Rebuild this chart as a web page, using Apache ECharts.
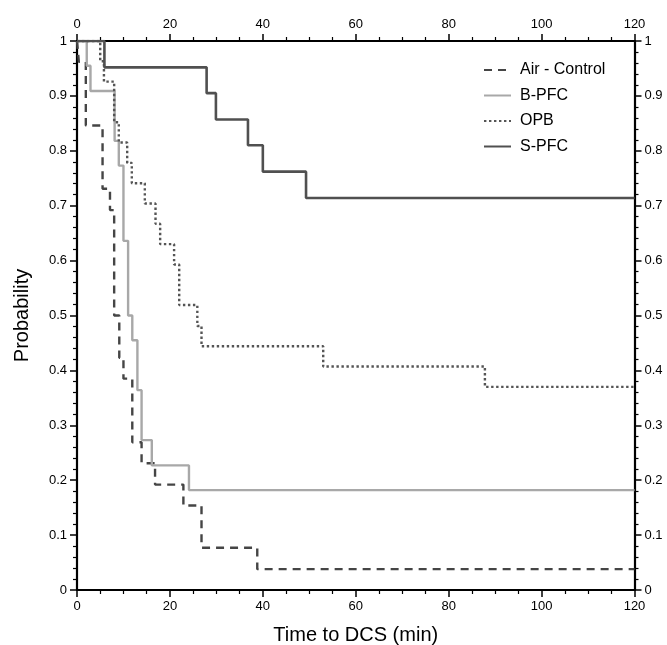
<!DOCTYPE html>
<html>
<head>
<meta charset="utf-8">
<script src="https://cdn.jsdelivr.net/npm/echarts@6/dist/echarts.min.js"></script>
<style>html,body{margin:0;padding:0;background:#fff;}#c{width:667px;height:645px;}</style>
</head>
<body>
<div id="c"></div>
<script>
// Kaplan-Meier step data (event time, survival probability after the event)
const seriesNames = ['Air - Control', 'B-PFC', 'OPB', 'S-PFC'];
const airTimes = [0.4, 1.9, 5.5, 7.1, 8.0, 9.1, 10.0, 11.9, 13.9, 16.8, 22.9, 26.8, 38.8];
const airProb  = [0.962, 0.846, 0.731, 0.692, 0.500, 0.423, 0.385, 0.269, 0.231, 0.192, 0.154, 0.077, 0.038];
const bpfcTimes = [2.1, 2.9, 8.1, 9.0, 10.0, 11.0, 11.9, 13.0, 13.9, 16.1, 24.1];
const bpfcProb  = [0.955, 0.909, 0.818, 0.773, 0.636, 0.500, 0.455, 0.364, 0.273, 0.227, 0.182];
const opbTimes = [5.0, 5.8, 8.0, 9.0, 10.8, 11.8, 14.6, 16.9, 17.9, 20.9, 22.0, 25.9, 26.8, 53.0, 87.8];
const opbProb  = [0.963, 0.926, 0.852, 0.815, 0.778, 0.741, 0.704, 0.667, 0.630, 0.593, 0.519, 0.481, 0.444, 0.407, 0.370];
const spfcTimes = [5.9, 27.9, 29.9, 36.8, 40.0, 49.3];
const spfcProb  = [0.952, 0.905, 0.857, 0.810, 0.762, 0.714];
const xTicks = [0, 20, 40, 60, 80, 100, 120];
const yTicks = [0, 0.1, 0.2, 0.3, 0.4, 0.5, 0.6, 0.7, 0.8, 0.9, 1];
const xMax = 120;

function steps(times, probs) {
  const d = [[0, 1]];
  times.forEach((t, i) => d.push([t, probs[i]]));
  d.push([xMax, probs[probs.length - 1]]);
  return d;
}

const font = 'Liberation Sans, Arial, Helvetica, sans-serif';
const axisLine = { show: true, onZero: false, lineStyle: { color: '#000', width: 2.2 } };
const axisTick = { show: true, length: 7, lineStyle: { color: '#000', width: 1.5 } };
const minorTickX = { show: true, splitNumber: 4, length: 4, lineStyle: { color: '#000', width: 1.2 } };
const minorTickY = { show: true, splitNumber: 5, length: 4, lineStyle: { color: '#000', width: 1.2 } };
const lbl = { color: '#000', fontFamily: font, fontSize: 13 };
const yFmt = v => String(+v.toFixed(1));

const xAxisBase = {
  type: 'value', min: 0, max: xMax, interval: 20,
  axisLine, axisTick, minorTick: minorTickX, splitLine: { show: false },
  axisLabel: Object.assign({ margin: 10 }, lbl)
};
const yAxisBase = {
  type: 'value', min: 0, max: 1, interval: 0.1,
  axisLine, axisTick, minorTick: minorTickY, splitLine: { show: false },
  axisLabel: Object.assign({ margin: 10, formatter: yFmt }, lbl)
};

const chart = echarts.init(document.getElementById('c'), null, { renderer: 'canvas' });
chart.setOption({
  backgroundColor: '#fff',
  animation: false,
  grid: { left: 77, right: 32.5, top: 41, bottom: 55, containLabel: false, outerBoundsMode: 'none' },
  legend: {
    left: 478, top: 57, orient: 'vertical', itemWidth: 27, itemHeight: 14, itemGap: 9.5,
    itemStyle: { opacity: 0 },
    textStyle: { color: '#000', fontFamily: font, fontSize: 16, padding: [0, 0, 0, 4] },
    data: seriesNames
  },
  xAxis: [
    Object.assign({}, xAxisBase, {
      position: 'bottom', name: 'Time to DCS (min)', nameLocation: 'middle', nameGap: 35,
      nameTextStyle: { color: '#000', fontFamily: font, fontSize: 20 }
    }),
    Object.assign({}, xAxisBase, { position: 'top' })
  ],
  yAxis: [
    Object.assign({}, yAxisBase, {
      position: 'left', name: 'Probability', nameLocation: 'middle', nameGap: 45,
      nameTextStyle: { color: '#000', fontFamily: font, fontSize: 20 }
    }),
    Object.assign({}, yAxisBase, { position: 'right' })
  ],
  series: [
    { name: seriesNames[0], type: 'line', step: 'end', symbol: 'none', data: steps(airTimes, airProb),
      lineStyle: { color: '#454545', width: 2.4, type: [8, 6] }, itemStyle: { color: '#454545' } },
    { name: seriesNames[1], type: 'line', step: 'end', symbol: 'none', data: steps(bpfcTimes, bpfcProb),
      lineStyle: { color: '#a8a8a8', width: 2.4, type: 'solid' }, itemStyle: { color: '#a8a8a8' } },
    { name: seriesNames[2], type: 'line', step: 'end', symbol: 'none', data: steps(opbTimes, opbProb),
      lineStyle: { color: '#555555', width: 2.4, type: [2.4, 2.6] }, itemStyle: { color: '#555555' } },
    { name: seriesNames[3], type: 'line', step: 'end', symbol: 'none', data: steps(spfcTimes, spfcProb),
      lineStyle: { color: '#505050', width: 2.6, type: 'solid' }, itemStyle: { color: '#505050' } }
  ]
});
</script>
</body>
</html>
